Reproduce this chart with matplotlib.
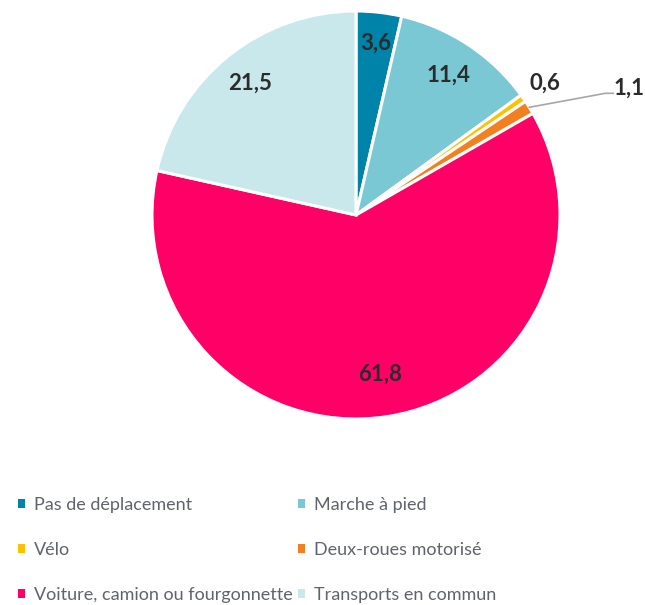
import matplotlib.pyplot as plt
import numpy as np
from matplotlib.patches import Patch

plt.rcParams['font.family'] = ['Lato', 'DejaVu Sans']

modes = ['Pas de déplacement', 'Marche à pied', 'Vélo', 'Deux-roues motorisé',
         'Voiture, camion ou fourgonnette', 'Transports en commun']
shares = [3.6, 11.4, 0.6, 1.1, 61.8, 21.5]
colors = ['#0083A9', '#7AC8D3', '#FFC000', '#F28021', '#FF0066', '#C8E8EC']

fig = plt.figure(figsize=(6.45, 6.05), dpi=100)
ax = fig.add_axes([0, 0, 1, 1])

cx, cy, R = 356, 390, 204
wedges, _ = ax.pie(shares, colors=colors, startangle=90, counterclock=False,
                   center=(cx, cy), radius=R, frame=True,
                   wedgeprops=dict(edgecolor='white', linewidth=2.2))
ax.set_xlim(0, 645)
ax.set_ylim(0, 605)
ax.set_aspect('equal')
ax.axis('off')

# label positions from wedge mid-angles (measured clockwise from the top)
cum = np.cumsum([0] + shares)
mids = np.radians((cum[:-1] + np.array(shares) / 2) / 100 * 360)
label_r = [0.85, 0.82, 1.13, None, 0.79, 0.83]

for i, v in enumerate(shares):
    txt = f'{v:.1f}'.replace('.', ',')
    a = mids[i]
    if label_r[i] is None:
        # leader line for the small orange slice
        ex, ey = cx + R * np.sin(a), cy + R * np.cos(a)
        kx, ky = ex + 76, ey + 14
        ax.plot([ex, kx, kx + 8], [ey, ky, ky], color='#A6A6A6', lw=1.2)
        ax.text(kx + 8, ky + 5, txt, ha='left', va='center',
                fontsize=16, fontweight='bold', color='#2B2B2B')
        continue
    r = label_r[i] * R
    ax.text(cx + r * np.sin(a), cy + r * np.cos(a), txt, ha='center', va='center',
            fontsize=16, fontweight='bold', color='#2B2B2B')

handles = [Patch(facecolor=c, edgecolor='none') for c in colors]
order = [0, 2, 4, 1, 3, 5]
fig.legend([handles[i] for i in order], [modes[i] for i in order],
           ncol=2, loc='upper left', bbox_to_anchor=(0.028, 0.179),
           frameon=False, fontsize=13, labelcolor='#60636E',
           borderaxespad=0, borderpad=0,
           handlelength=0.38, handleheight=0.38, handletextpad=0.5,
           columnspacing=0.3, labelspacing=1.62)

fig.savefig('out.png', dpi=100)
